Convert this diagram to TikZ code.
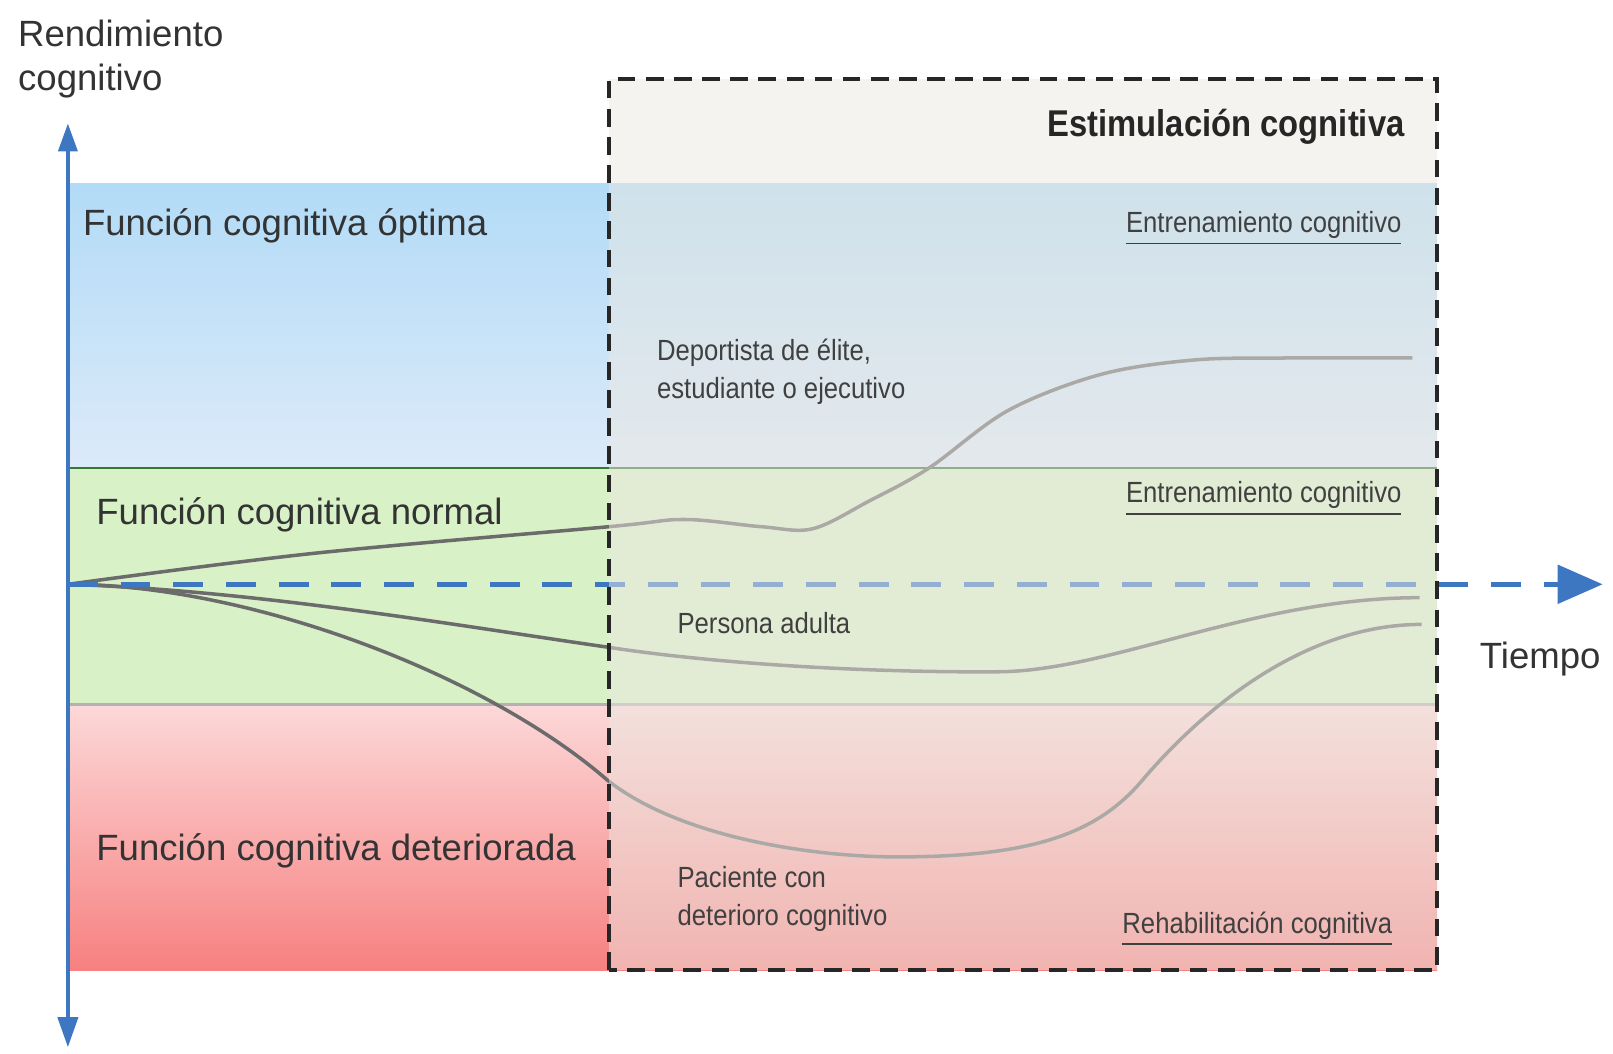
\documentclass[tikz,border=0pt]{standalone}
\usepackage{fontspec}
\setmainfont{Liberation Sans}
\newfontfamily\narrowfont{Liberation Sans}[FakeStretch=0.88]
\usetikzlibrary{arrows.meta, calc}

\definecolor{axisblue}{HTML}{3D77C2}
\definecolor{bluetop}{HTML}{B2DBF7}
\definecolor{bluebot}{HTML}{DCEAF9}
\definecolor{greenband}{HTML}{D9F1C7}
\definecolor{redtop}{HTML}{FCD8D8}
\definecolor{redbot}{HTML}{F78080}
\definecolor{boxtint}{HTML}{ECE8E1}

\begin{document}
\begin{tikzpicture}[x=1.0287cm, y=1.0287cm,
        curve/.style={draw=black!58, line width=1pt},
        edge/.style={line width=0.7pt},
        boxline/.style={draw=black!85, line width=1.3pt, dash pattern=on 5pt off 3pt},
        big/.style={font=\fontsize{10.4}{12.5}\selectfont, text=black!80, inner sep=0pt},
        small/.style={font=\narrowfont\fontsize{8.3}{10.8}\selectfont, text=black!75, inner sep=0pt, align=left},
        tag/.style={small, anchor=east}]
    \useasboundingbox (0,0) rectangle (15.68,10.24);
    \coordinate (o) at (0.66,4.56);
    \coordinate (ytop) at (0.66,9.04);
    \coordinate (ybot) at (0.66,0.06);
    \coordinate (tend) at (15.58,4.56);
    \coordinate (bsw) at (5.92,0.81);
    \coordinate (bne) at (13.97,9.47);

    % bands
    \shade[top color=bluetop, bottom color=bluebot] (0.66,5.69) rectangle (13.97,8.46);
    \fill[greenband] (0.66,3.39) rectangle (13.97,5.69);
    \shade[top color=redtop, bottom color=redbot] (0.66,0.81) rectangle (13.97,3.39);
    \draw[edge, draw=black!55!green!60!gray] (0.66,5.69) -- (13.97,5.69);
    \draw[edge, draw=black!30] (0.66,3.39) -- (13.97,3.39);

    % trajectories
    \draw[curve] plot[smooth, tension=0.55] coordinates {(o) (3.04,4.86) (5.92,5.12) (6.65,5.19)
        (7.4,5.12) (7.9,5.10) (8.45,5.37) (9.03,5.69) (9.8,6.25) (10.7,6.60) (11.6,6.74) (12.5,6.76) (13.73,6.76)};
    \draw[curve] (o) .. controls (2.5,4.50) and (4.5,4.15) .. (5.90,3.95)
        .. controls (7.0,3.78) and (8.5,3.70) .. (9.72,3.71)
        .. controls (10.8,3.72) and (12.2,4.43) .. (13.80,4.43);
    \draw[curve] (o) .. controls (2.4,4.56) and (4.7,3.7) .. (5.90,2.66)
        .. controls (6.6,2.1) and (7.9,1.91) .. (8.72,1.91)
        .. controls (10.0,1.91) and (10.65,2.12) .. (11.1,2.65)
        .. controls (11.6,3.24) and (12.6,4.17) .. (13.82,4.17);

    % time axis
    \draw[draw=axisblue, line width=1.5pt, dash pattern=on 8.5pt off 6.5pt,
        -{Triangle[length=0.45cm, width=0.38cm]}] (o) -- (tend);

    % stimulation box
    \fill[boxtint, opacity=0.5] (bsw) rectangle (bne);
    \draw[boxline] (bsw) rectangle (bne);

    % performance axis
    \draw[draw=axisblue, fill=axisblue, line width=1.1pt,
        {Triangle[length=0.3cm, width=0.2cm]}-{Triangle[length=0.28cm, width=0.19cm]}] (ybot) -- (ytop);

    \node[big, anchor=west, align=left] (rend) at (0.17,9.67) {Rendimiento\\cognitivo};
    \node[big, anchor=west] (tiempo) at (14.38,3.83) {Tiempo};
    \node[big, anchor=west] (optima) at (0.80,8.04) {Función cognitiva óptima};
    \node[big, anchor=west] (normal) at (0.93,5.24) {Función cognitiva normal};
    \node[big, anchor=west] (deter) at (0.93,1.97) {Función cognitiva deteriorada};
    \node[big, anchor=east, font=\narrowfont\fontsize{10.6}{12.5}\selectfont\bfseries, text=black!85] (estim) at (13.66,9.01) {Estimulación cognitiva};

    \node[tag] (ent1) at (13.63,8.02) {\underline{Entrenamiento cognitivo}};
    \node[tag] (ent2) at (13.63,5.39) {\underline{Entrenamiento cognitivo}};
    \node[tag] (rehab) at (13.54,1.21) {\underline{Rehabilitación cognitiva}};

    \node[small, anchor=west] (depor) at (6.38,6.625) {Deportista de élite,\\estudiante o ejecutivo};
    \node[small, anchor=west] (adulta) at (6.58,4.18) {Persona adulta};
    \node[small, anchor=west] (pacien) at (6.58,1.505) {Paciente con\\deterioro cognitivo};
\end{tikzpicture}
\end{document}
